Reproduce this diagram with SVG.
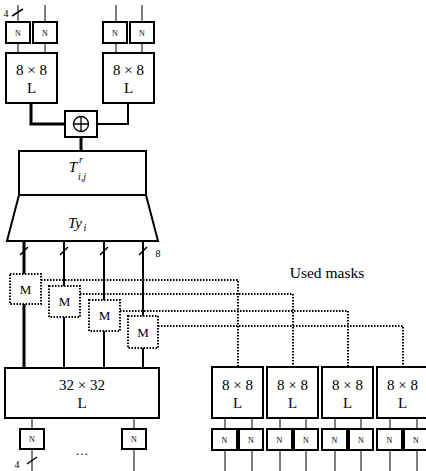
<svg xmlns="http://www.w3.org/2000/svg" width="426" height="471" viewBox="0 0 426 471">
<style>
.box{fill:#fff;stroke:#000;stroke-width:2}
.nbox{fill:#fff;stroke:#000;stroke-width:2}
.mbox{fill:#fff;stroke:#000;stroke-width:2;stroke-dasharray:1.5 1.5}
.thin{fill:none;stroke:#000;stroke-width:1}
.slash{fill:none;stroke:#000;stroke-width:1.5}
.med{fill:none;stroke:#000;stroke-width:2}
.thick{fill:none;stroke:#000;stroke-width:3}
.dot{fill:none;stroke:#000;stroke-width:2;stroke-dasharray:1.5 1.5}
text{font-family:"Liberation Serif","Times New Roman",serif;fill:#000;text-anchor:middle}
.n{font-size:8px}
.m{font-size:13px}
.big{font-size:15px}
.lab{font-size:10px}
.math{font-style:italic;font-size:15px}
.sub{font-style:italic;font-size:10px;text-anchor:start}
</style>
<rect width="426" height="471" fill="#fff"/>
<g id="connectors">
<path class="thin" d="M18 5V22M45 5V22M116 5V22M142 5V22"/>
<path class="thin" d="M18 43V53M45 43V53M116 43V53M142 43V53"/>
<path class="slash" d="M12 16L23 9"/>
<path class="thick" d="M31 103V124H65"/>
<path class="med" d="M128 103V124H97"/>
<path class="thick" d="M81 137V151"/>
<path class="thick" d="M24 241V274M24 304V368"/>
<path class="med" d="M64 241V286M64 317V368M104 241V300M104 331V368M143 241V316M143 348V368"/>
<path class="slash" d="M20 255L28 247M60 255L68 247M100 255L108 247M139 255L147 247"/>
<path class="dot" d="M41 280H238V367M80 294H293V367M120 311H348V367M158 326H403V367"/>
<path class="thin" d="M32 418V429M134 418V429M32 449V471M134 449V471"/>
<path class="slash" d="M27 464L37 457"/>
<path class="thin" d="M225 418V429M252 418V429M280 418V429M306 418V429M335 418V429M361 418V429M390 418V429M417 418V429"/>
<path class="thin" d="M225 450V471M252 450V471M280 450V471M306 450V471M335 450V471M361 450V471M390 450V471M417 450V471"/>
</g>
<g id="n-top-1"><rect class="nbox" x="6" y="22" width="24" height="21"/><text class="n" x="18" y="35.5">N</text></g>
<g id="n-top-2"><rect class="nbox" x="33" y="22" width="24" height="21"/><text class="n" x="45" y="35.5">N</text></g>
<g id="n-top-3"><rect class="nbox" x="103" y="22" width="24" height="21"/><text class="n" x="115" y="35.5">N</text></g>
<g id="n-top-4"><rect class="nbox" x="130" y="22" width="24" height="21"/><text class="n" x="142" y="35.5">N</text></g>
<text class="lab" x="6" y="17">4</text>
<g id="l-top-left"><rect class="box" x="6" y="53" width="51" height="50"/><text class="big" x="31.5" y="75">8 × 8</text><text class="big" x="31.5" y="93">L</text></g>
<g id="l-top-right"><rect class="box" x="103" y="53" width="51" height="50"/><text class="big" x="128.5" y="75">8 × 8</text><text class="big" x="128.5" y="93">L</text></g>
<g id="xor"><rect class="box" x="65" y="111" width="32" height="26"/><circle cx="81" cy="124" r="7.5" fill="none" stroke="#000" stroke-width="1.3"/><path d="M73.5 124H88.5M81 116.5V131.5" stroke="#000" stroke-width="1.3"/></g>
<g id="t-box"><rect class="box" x="19" y="151" width="127" height="44"/><text class="math" x="73" y="172">T</text><text class="sub" x="79" y="163">r</text><text class="sub" x="78" y="180">i,j</text></g>
<g id="ty-box"><path class="box" d="M19 195H146L158 241H7Z"/><text class="math" x="75" y="228">Ty</text><text class="sub" x="83.5" y="231">i</text></g>
<text class="lab" x="158" y="257">8</text>
<g id="m1"><rect class="mbox" x="10" y="274" width="31" height="30"/><text class="m" x="25.5" y="293.5">M</text></g>
<g id="m2"><rect class="mbox" x="49" y="286" width="31" height="31"/><text class="m" x="64.5" y="306">M</text></g>
<g id="m3"><rect class="mbox" x="89" y="300" width="31" height="31"/><text class="m" x="104.5" y="320">M</text></g>
<g id="m4"><rect class="mbox" x="128" y="316" width="30" height="32"/><text class="m" x="143" y="336.5">M</text></g>
<text x="327" y="278" font-size="15.5px">Used masks</text>
<g id="l-32"><rect class="box" x="5" y="368" width="154" height="50"/><text class="big" x="82" y="390">32 × 32</text><text class="big" x="82" y="408">L</text></g>
<g id="n-bot-1"><rect class="nbox" x="20" y="429" width="24" height="20"/><text class="n" x="32" y="442">N</text></g>
<g id="n-bot-2"><rect class="nbox" x="122" y="429" width="24" height="20"/><text class="n" x="134" y="442">N</text></g>
<text x="82" y="455" font-size="13px">…</text>
<text class="lab" x="17" y="468">4</text>
<g id="l-b1"><rect class="box" x="212" y="367" width="51" height="51"/><text class="big" x="237.5" y="390">8 × 8</text><text class="big" x="237.5" y="408">L</text></g>
<g id="l-b2"><rect class="box" x="267" y="367" width="51" height="51"/><text class="big" x="292.5" y="390">8 × 8</text><text class="big" x="292.5" y="408">L</text></g>
<g id="l-b3"><rect class="box" x="322" y="367" width="51" height="51"/><text class="big" x="347.5" y="390">8 × 8</text><text class="big" x="347.5" y="408">L</text></g>
<g id="l-b4"><rect class="box" x="377" y="367" width="51" height="51"/><text class="big" x="402.5" y="390">8 × 8</text><text class="big" x="402.5" y="408">L</text></g>
<g id="n-b1a"><rect class="nbox" x="212" y="429" width="25" height="21"/><text class="n" x="224.5" y="442.5">N</text></g>
<g id="n-b1b"><rect class="nbox" x="239" y="429" width="24" height="21"/><text class="n" x="251" y="442.5">N</text></g>
<g id="n-b2a"><rect class="nbox" x="267" y="429" width="25" height="21"/><text class="n" x="279.5" y="442.5">N</text></g>
<g id="n-b2b"><rect class="nbox" x="294" y="429" width="24" height="21"/><text class="n" x="306" y="442.5">N</text></g>
<g id="n-b3a"><rect class="nbox" x="322" y="429" width="25" height="21"/><text class="n" x="334.5" y="442.5">N</text></g>
<g id="n-b3b"><rect class="nbox" x="349" y="429" width="24" height="21"/><text class="n" x="361" y="442.5">N</text></g>
<g id="n-b4a"><rect class="nbox" x="377" y="429" width="25" height="21"/><text class="n" x="389.5" y="442.5">N</text></g>
<g id="n-b4b"><rect class="nbox" x="404" y="429" width="24" height="21"/><text class="n" x="416" y="442.5">N</text></g>
</svg>
